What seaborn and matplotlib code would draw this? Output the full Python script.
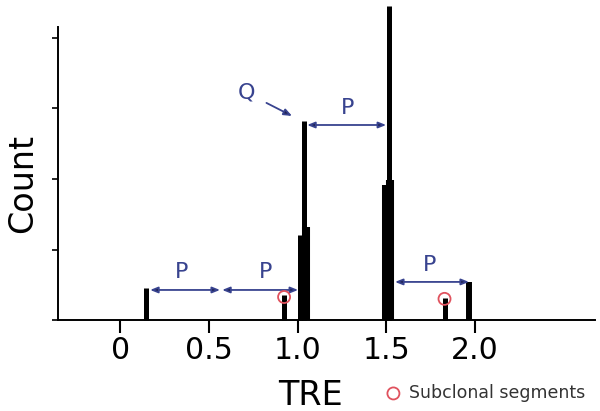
import matplotlib
matplotlib.use("Agg")
import matplotlib.pyplot as plt
import seaborn as sns
import pandas as pd

# segment stems (TRE position, count)
stem_tre = [0.144, 0.924, 1.011, 1.048, 1.039, 1.487, 1.521, 1.518, 1.828, 1.966]
stem_count = [2.27, 1.77, 6.0, 6.6, 14.1, 9.57, 9.93, 22.3, 1.56, 2.7]
stem_lw = [3.6, 3.6, 3.6, 5.8, 3.6, 2.9, 5.8, 3.6, 3.6, 4.3]  # style only

# subclonal segments
sub_tre = [0.924, 1.828]
sub_count = [1.63, 1.5]

xticks = [0, 0.5, 1.0, 1.5, 2.0]
xtick_labels = ["0", "0.5", "1.0", "1.5", "2.0"]
yticks = [0, 5, 10, 15, 20]

navy = "#38438f"
head = "#1e2150"
red = "#e0525e"

sns.set_style("ticks")
plt.rcParams["font.family"] = ["DejaVu Sans"]

fig = plt.figure(figsize=(6, 4.11), dpi=100)
ax = fig.add_axes([58 / 600, 1 - 320 / 411, (595 - 58) / 600, 320 / 411])

ax.vlines(stem_tre, 0, stem_count, colors="black", linewidths=stem_lw,
          capstyle="butt", clip_on=False)

df_sub = pd.DataFrame({"TRE": sub_tre, "Count": sub_count})
sns.scatterplot(data=df_sub, x="TRE", y="Count", ax=ax, s=75, marker="o",
                facecolor="none", edgecolor=red, linewidth=1.3,
                label="Subclonal segments", zorder=5, clip_on=False)

ax.set_xlim(-0.35, 2.676)
ax.set_ylim(0, 320 / 14.1)
ax.set_xticks(xticks)
ax.set_xticklabels(xtick_labels)
ax.set_yticks(yticks)
ax.set_yticklabels([])
ax.tick_params(axis="x", direction="out", length=9.5, width=1.5, pad=2,
               labelsize=21.5, colors="black")
ax.tick_params(axis="y", direction="out", length=4.3, width=1.2, colors="black")
sns.despine(ax=ax)
ax.spines["left"].set_bounds(0, 20.8)
for s in ["left", "bottom"]:
    ax.spines[s].set_linewidth(1.4)
    ax.spines[s].set_color("black")
ax.set_xlabel("")
ax.set_ylabel("")

fig.text(32 / 600, 1 - 183 / 411, "Count", rotation=90, rotation_mode="anchor",
         ha="center", va="baseline", fontsize=24, color="black")
fig.text(311 / 600, 1 - 405 / 411, "TRE", ha="center", va="baseline",
         fontsize=24, color="black")

# P arrows
arrow_kw = dict(arrowstyle="<|-|>,head_length=0.45,head_width=0.18",
                edgecolor=navy, facecolor=head, lw=1.3, shrinkA=0, shrinkB=0)
p_arrows = [((0.169, 2.13), (0.563, 2.13)),
            ((0.575, 2.13), (1.003, 2.13)),
            ((1.054, 13.83), (1.499, 13.83)),
            ((1.549, 2.70), (1.966, 2.70))]
for a, b in p_arrows:
    ax.annotate("", xy=b, xytext=a, arrowprops=arrow_kw, annotation_clip=False)

for x, y in [(0.349, 3.4), (0.817, 3.4), (1.279, 15.04), (1.746, 3.9)]:
    ax.text(x, y, "P", ha="center", va="center", fontsize=16, color=navy)

ax.annotate("Q", xy=(0.969, 14.47), xytext=(0.715, 16.1), fontsize=16,
            color=navy, ha="center", va="center",
            arrowprops=dict(arrowstyle="-|>,head_length=0.3,head_width=0.12",
                            edgecolor=navy, facecolor=head, lw=1.3,
                            shrinkA=6, shrinkB=0))

ax.legend(loc="center left", bbox_to_anchor=(383 / 600, 1 - 393 / 411),
          bbox_transform=fig.transFigure, frameon=False, fontsize=12.5,
          handletextpad=0.3, borderpad=0, borderaxespad=0, handlelength=1.2,
          labelcolor="#333333")

fig.savefig("out.png", dpi=100)
